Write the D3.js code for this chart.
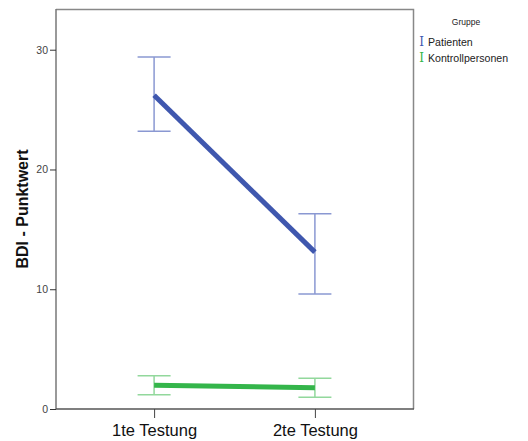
<!DOCTYPE html>
<html>
<head>
<meta charset="utf-8">
<script src="https://cdn.jsdelivr.net/npm/d3@7"></script>
<style>
  html, body { margin: 0; padding: 0; background: #fff; }
  svg { display: block; font-family: Arial, "Liberation Sans", sans-serif; }
</style>
</head>
<body>
<svg id="chart" width="528" height="441"></svg>
<script>
// Messzeitpunkte
const categories = ["1te Testung", "2te Testung"];
// Mittelwerte und Fehlerbalken (untere / obere Grenze) je Gruppe
const patientenMean  = [26.2, 13.1];
const patientenLower = [23.2, 9.6];
const patientenUpper = [29.4, 16.3];
const kontrolleMean  = [1.98, 1.78];
const kontrolleLower = [1.2, 0.98];
const kontrolleUpper = [2.78, 2.56];
const yTicks = [0, 10, 20, 30];
const groupNames = ["Patienten", "Kontrollpersonen"];

const series = [
  { name: groupNames[0], mean: patientenMean, lo: patientenLower, hi: patientenUpper,
    line: "#3f57ae", bar: "#8a98d2" },
  { name: groupNames[1], mean: kontrolleMean, lo: kontrolleLower, hi: kontrolleUpper,
    line: "#34b54a", bar: "#92d89c" }
];

const svg = d3.select("#chart");
const plot = { left: 56, top: 9, right: 413, bottom: 409 };

const x = d3.scalePoint().domain(categories)
  .range([plot.left, plot.right]).padding(0.61);
const y = d3.scaleLinear().domain([0, 33.4]).range([plot.bottom, plot.top]);

// Rahmen oben und rechts
svg.append("path")
  .attr("d", `M${plot.left},${plot.top + 0.5}H${plot.right + 0.5}V${plot.bottom}`)
  .attr("fill", "none").attr("stroke", "#888").attr("stroke-width", 1.5);

// Y-Achse
const yAxis = svg.append("g").attr("transform", `translate(${plot.left},0)`)
  .call(d3.axisLeft(y).tickValues(yTicks).tickSize(6).tickSizeOuter(0).tickPadding(2));
yAxis.select(".domain").attr("stroke", "#777").attr("stroke-width", 1.5)
  .attr("d", `M0,${plot.top}V${plot.bottom}`);
yAxis.selectAll(".tick line").attr("stroke", "#333");
yAxis.selectAll(".tick text").attr("fill", "#444").attr("font-size", 10.5)
  .attr("font-family", "Arial, 'Liberation Sans', sans-serif");

// X-Achse
const xAxis = svg.append("g").attr("transform", `translate(0,${plot.bottom})`)
  .call(d3.axisBottom(x).tickSize(9).tickSizeOuter(0).tickPadding(6));
xAxis.select(".domain").attr("stroke", "#555").attr("stroke-width", 1.5)
  .attr("d", `M${plot.left},0H${plot.right + 1}`);
xAxis.selectAll(".tick line").attr("stroke", "#444");
xAxis.selectAll(".tick text").attr("fill", "#111").attr("font-size", 16.5)
  .attr("font-family", "Arial, 'Liberation Sans', sans-serif");

// Achsentitel
svg.append("text")
  .attr("transform", `translate(27.5,${(plot.top + plot.bottom) / 2}) rotate(-90)`)
  .attr("text-anchor", "middle")
  .attr("font-size", 16).attr("font-weight", "bold").attr("fill", "#111")
  .text("BDI - Punktwert");

const capHalf = 16.5;
const line = d3.line().x((d, i) => x(categories[i])).y(d => y(d));

series.forEach(s => {
  const g = svg.append("g");
  // Fehlerbalken
  categories.forEach((c, i) => {
    const cx = x(c);
    g.append("line").attr("x1", cx).attr("x2", cx)
      .attr("y1", y(s.lo[i])).attr("y2", y(s.hi[i]))
      .attr("stroke", s.bar).attr("stroke-width", 1.5);
    [s.lo[i], s.hi[i]].forEach(v => {
      g.append("line").attr("x1", cx - capHalf).attr("x2", cx + capHalf)
        .attr("y1", y(v)).attr("y2", y(v))
        .attr("stroke", s.bar).attr("stroke-width", 1.5);
    });
  });
  // Mittelwertlinie
  g.append("path").attr("d", line(s.mean))
    .attr("fill", "none").attr("stroke", s.line).attr("stroke-width", 5);
});

// Legende
const legend = svg.append("g");
legend.append("text").attr("x", 466).attr("y", 25).attr("text-anchor", "middle")
  .attr("font-size", 8.5).attr("fill", "#222").text("Gruppe");
series.forEach((s, i) => {
  const ly = 46 + i * 16;
  legend.append("text").attr("x", 421.5).attr("y", ly).attr("text-anchor", "middle")
    .attr("font-size", 12).attr("font-family", "'DejaVu Serif', serif")
    .attr("fill", s.line).text("I");
  legend.append("text").attr("x", 428).attr("y", ly)
    .attr("font-size", 10.6).attr("fill", "#222").text(s.name);
});
</script>
</body>
</html>
